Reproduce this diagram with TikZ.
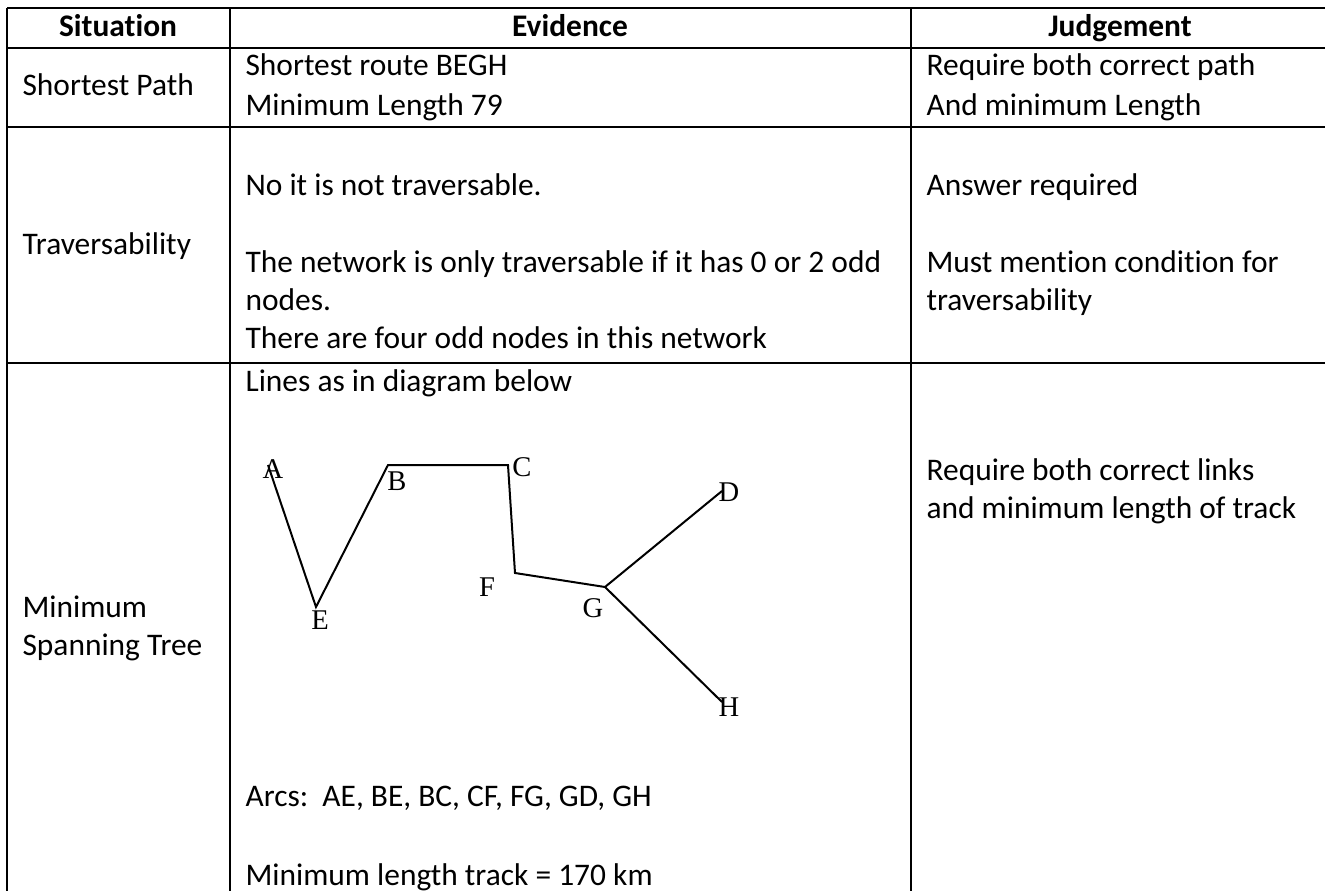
\documentclass[tikz,border=0pt]{standalone}
\usepackage{fontspec}
\setmainfont{Carlito}[RawFeature={-liga;-clig;-calt;-dlig}]
\newfontfamily\diagfont{Liberation Serif}
\newcommand{\brkk}{\kern0pt{}}
\begin{document}
\begin{tikzpicture}[x=0.35pt,y=-0.35pt,
  rule/.style={line width=1pt},
  edge/.style={line width=0.7pt, line join=miter},
  cell/.style={anchor=west, inner sep=0pt, text height=7.7pt, text depth=2.2pt, font=\fontsize{11}{13.4}\selectfont},
  head/.style={anchor=center, inner sep=0pt, text height=7.7pt, text depth=2.2pt, font=\fontsize{11}{13.4}\selectfont\bfseries},
  vlab/.style={inner sep=0pt, font=\diagfont\fontsize{10}{12}\selectfont}]
\useasboundingbox (0,0) rectangle (1325,891);
\begin{scope}
\clip (0,0) rectangle (1325,891);
% table rules
\draw[rule] (7,8) -- (1329,8);
\draw[rule] (7,48) -- (1329,48);
\draw[rule] (7,127) -- (1329,127);
\draw[rule] (7,363) -- (1329,363);
\draw[rule] (7,8) -- (7,900);
\draw[rule] (230,8) -- (230,900);
\draw[rule] (911,8) -- (911,900);
\draw[rule] (1329,8) -- (1329,900);
\end{scope}
% header
\node[head] (h1) at (118,29) {Situat\brkk ion};
\node[head] (h2) at (570,29) {Evidence};
\node[head] (h3) at (1120,29) {Judgement};
% row 1
\node[cell] (s1) at (22,88) {Shortest Path};
\node[cell] (e1a) at (245,68) {Shortest route BEGH};
\node[cell] (e1b) at (245,108) {Minimum Length 79};
\node[cell] (j1a) at (926,68) {Require both correct path};
\node[cell] (j1b) at (926,108) {And minimum Length};
% row 2
\node[cell] (s2) at (22,247) {Traversability};
\node[cell] (e2a) at (245,188) {No it is not traversable.};
\node[cell] (e2b) at (245,265) {The network is only traversable if it has 0 or 2 odd};
\node[cell] (e2c) at (245,303) {nodes.};
\node[cell] (e2d) at (245,341) {There are four odd nodes in this network};
\node[cell] (j2a) at (926,188) {Answer required};
\node[cell] (j2b) at (926,265) {Must ment\brkk ion condit\brkk ion for};
\node[cell] (j2c) at (926,303) {traversability};
% row 3
\node[cell] (s3a) at (22,610) {Minimum};
\node[cell] (s3b) at (22,648) {Spanning Tree};
\node[cell] (e3a) at (245,384) {Lines as in diagram below};
\node[cell] (e3b) at (245,799) {Arcs:\ \ AE, BE, BC, CF, FG, GD, GH};
\node[cell] (e3c) at (245,878) {Minimum length track = 170 km};
\node[cell] (j3a) at (926,473) {Require both correct links};
\node[cell] (j3b) at (926,511) {and minimum length of track};
% spanning tree diagram
\coordinate (a) at (268,465);
\coordinate (e) at (316,607);
\coordinate (b) at (388,465);
\coordinate (c) at (508,465);
\coordinate (f) at (515,573);
\coordinate (g) at (605,587);
\coordinate (d) at (722,491);
\coordinate (hh) at (722,702);
\draw[edge] (a) -- (e) -- (b) -- (c) -- (f) -- (g) -- (d);
\draw[edge] (g) -- (hh);
\node[vlab] (la) at (273,469) {A};
\node[vlab] (lb) at (397,481) {B};
\node[vlab] (lc) at (522,467) {C};
\node[vlab] (ld) at (729,492) {D};
\node[vlab] (le) at (320,620) {E};
\node[vlab] (lf) at (487,587) {F};
\node[vlab] (lg) at (593,608) {G};
\node[vlab] (lh) at (729,707) {H};
\end{tikzpicture}
\end{document}
